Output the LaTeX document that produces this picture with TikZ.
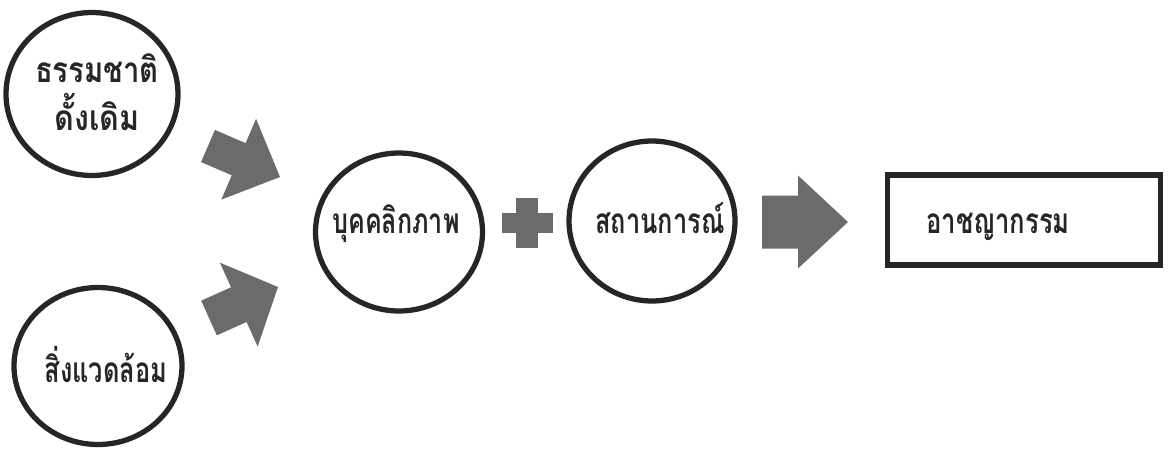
\documentclass[tikz,border=0pt]{standalone}
\usepackage{fontspec}
\newfontfamily\thaifont[Script=Thai,FakeStretch=0.85]{Loma}
\usetikzlibrary{calc,shapes.geometric}
\newcommand\blockarr[5]{% tail, tip, shaft half width, head half width, head length
  \coordinate (hb) at ($(#2)!#5!(#1)$);
  \fill[blockarrow] ($(#1)!#3!90:(#2)$) -- ($(hb)!#3!-90:(#1)$) -- ($(hb)!#4!-90:(#1)$)
    -- (#2) -- ($(hb)!#4!90:(#1)$) -- ($(hb)!#3!90:(#1)$) -- ($(#1)!#3!-90:(#2)$) -- cycle;
}
\newcommand\sx[2]{\scalebox{#1}[1]{#2}}
\begin{document}
\begin{tikzpicture}[x=0.02cm,y=-0.02cm,
  ring/.style={draw=black!85, line width=3pt, ellipse, inner sep=0pt},
  frame/.style={draw=black!85, line width=3.2pt, rectangle, inner sep=0pt},
  lbl/.style={font=\thaifont\bfseries\fontsize{20}{24}\selectfont, inner sep=0pt, anchor=base, text=black!85},
  blockarrow/.style={fill=black!58, draw=none}]
\useasboundingbox (0,0) rectangle (1168,450);
\fill[white] (0,0) rectangle (1168,450);
% circles
\node[ring, minimum width=3.44cm, minimum height=3.26cm] (c1) at (92,94) {};
\node[ring, minimum width=3.36cm, minimum height=3.14cm] (c2) at (98,366) {};
\node[ring, minimum width=3.34cm, minimum height=3.16cm] (c3) at (399,232) {};
\node[ring, minimum width=3.32cm, minimum height=3.20cm] (c4) at (652,221) {};
\node[frame, minimum width=5.46cm, minimum height=1.80cm] (box) at (1024,220) {};
% labels
\node[lbl] (t1a) at (97,82) {\sx{0.98}{ธรรมชาติ}};
\node[lbl] (t1b) at (97,130) {\sx{1.02}{ดั้งเดิม}};
\node[lbl] (t2) at (106,382) {\sx{0.85}{สิ่งแวดล้อม}};
\node[lbl] (t3) at (396,233) {\sx{0.84}{บุคคลิกภาพ}};
\node[lbl] (t4) at (660,233) {\sx{0.85}{สถานการณ์}};
\node[lbl] (t5) at (998,233) {\sx{0.86}{อาชญากรรม}};
% block arrows
\coordinate (a1s) at (208,146); \coordinate (a1e) at (280,177);
\coordinate (a2s) at (209,318); \coordinate (a2e) at (278,287);
\coordinate (a3s) at (762,222); \coordinate (a3e) at (848,222);
\blockarr{a1s}{a1e}{0.35cm}{0.88cm}{0.9cm}
\blockarr{a2s}{a2e}{0.38cm}{0.92cm}{0.86cm}
\blockarr{a3s}{a3e}{0.53cm}{0.93cm}{1.0cm}
% plus sign
\fill[blockarrow] (502,213) rectangle (553,233);
\fill[blockarrow] (516,198) rectangle (538,248);
\end{tikzpicture}
\end{document}
